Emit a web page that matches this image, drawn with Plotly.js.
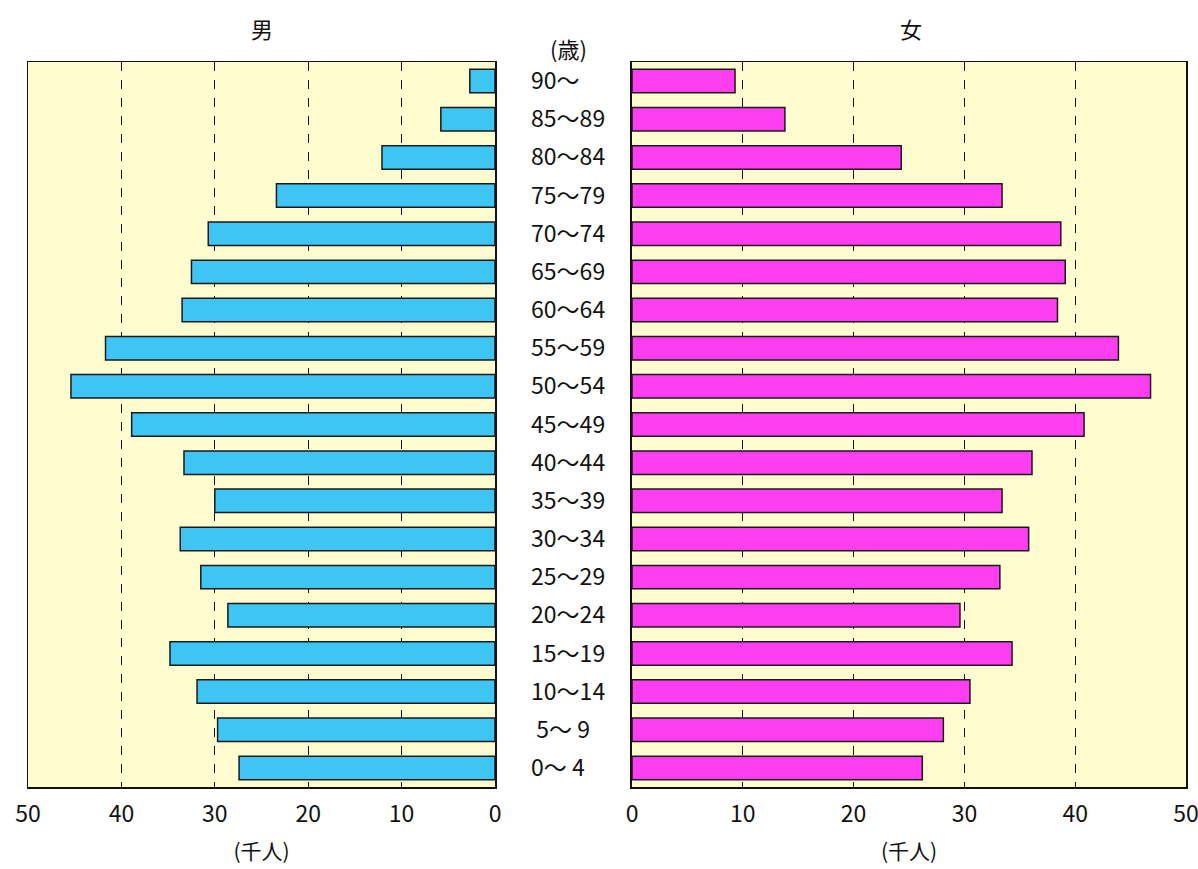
<!DOCTYPE html>
<html>
<head>
<meta charset="utf-8">
<script src="https://cdn.plot.ly/plotly-3.0.1.min.js"></script>
<style>html,body{margin:0;padding:0;background:#fff;}</style>
</head>
<body>
<div id="chart" style="width:1198px;height:869px;"></div>
<script>
// Age groups (bottom to top)
const ageGroups = ["0～ 4", " 5～ 9", "10～14", "15～19", "20～24", "25～29", "30～34", "35～39", "40～44",
  "45～49", "50～54", "55～59", "60～64", "65～69", "70～74", "75～79", "80～84", "85～89", "90～"];
// 男 (thousand persons)
const male = [27.4, 29.7, 31.9, 34.8, 28.6, 31.5, 33.7, 30.0, 33.3,
  38.9, 45.4, 41.7, 33.5, 32.5, 30.7, 23.4, 12.1, 5.8, 2.7];
// 女 (thousand persons)
const female = [26.2, 28.1, 30.5, 34.3, 29.6, 33.2, 35.8, 33.4, 36.1,
  40.8, 46.8, 43.9, 38.4, 39.1, 38.7, 33.4, 24.3, 13.8, 9.3];
const xTicks = [0, 10, 20, 30, 40, 50];

const numFont = {family: "Liberation Sans Narrow, Noto Sans CJK JP, sans-serif", size: 23, color: "#111"};
const cjkFont = {family: "Noto Sans CJK JP, sans-serif", size: 21, color: "#111"};

const traces = [
  {type: "bar", orientation: "h", y: ageGroups, x: male, xaxis: "x", yaxis: "y", name: "男",
   marker: {color: "#3fc5f4", line: {color: "#1a1a1a", width: 1.5}}, hoverinfo: "x+y"},
  {type: "bar", orientation: "h", y: ageGroups, x: female, xaxis: "x2", yaxis: "y2", name: "女",
   marker: {color: "#ff3ef2", line: {color: "#1a1a1a", width: 1.5}}, hoverinfo: "x+y"}
];

const xCommon = {
  tickvals: xTicks, ticktext: xTicks.map(String), ticks: "", tickfont: numFont,
  showgrid: true, gridcolor: "#111", griddash: "dash", gridwidth: 1,
  showline: true, mirror: true, linecolor: "#111", linewidth: 1.5,
  zeroline: false, fixedrange: true, ticklabelstandoff: 6, ticklabeloverflow: "allow"
};
const yCommon = {
  domain: [1 - 787/869, 1 - 62/869], type: "category", range: [-0.5, 18.5],
  showgrid: false, zeroline: false, fixedrange: true, ticks: "",
  showline: true, mirror: true, linecolor: "#111", linewidth: 1.5
};

const layout = {
  width: 1198, height: 869,
  margin: {l: 0, r: 0, t: 0, b: 0},
  paper_bgcolor: "#ffffff",
  plot_bgcolor: "#fffccf",
  showlegend: false,
  bargap: 0.385,
  xaxis: Object.assign({}, xCommon, {domain: [28/1198, 495/1198], range: [50, 0], anchor: "y",
    title: {text: "(千人)", font: cjkFont, standoff: 16}}),
  xaxis2: Object.assign({}, xCommon, {domain: [632/1198, 1186/1198], range: [0, 50], anchor: "y2",
    title: {text: "(千人)", font: cjkFont, standoff: 16}}),
  yaxis: Object.assign({}, yCommon, {anchor: "x", side: "right", tickfont: numFont, ticklabelstandoff: 30}),
  yaxis2: Object.assign({}, yCommon, {anchor: "x2", matches: "y", showticklabels: false, linewidth: 2}),
  annotations: [
    {text: "男", xref: "paper", yref: "paper", x: 262/1198, y: 1 - 28/869, showarrow: false,
     font: {family: "Noto Sans CJK JP, sans-serif", size: 22, color: "#111"}, xanchor: "center", yanchor: "middle"},
    {text: "女", xref: "paper", yref: "paper", x: 911/1198, y: 1 - 28/869, showarrow: false,
     font: {family: "Noto Sans CJK JP, sans-serif", size: 22, color: "#111"}, xanchor: "center", yanchor: "middle"},
    {text: "(歳)", xref: "paper", yref: "paper", x: 568/1198, y: 1 - 48/869, showarrow: false,
     font: {family: "Noto Sans CJK JP, sans-serif", size: 22, color: "#111"}, xanchor: "center", yanchor: "middle"}
  ]
};

Plotly.newPlot("chart", traces, layout, {displayModeBar: false, staticPlot: true});
</script>
</body>
</html>
